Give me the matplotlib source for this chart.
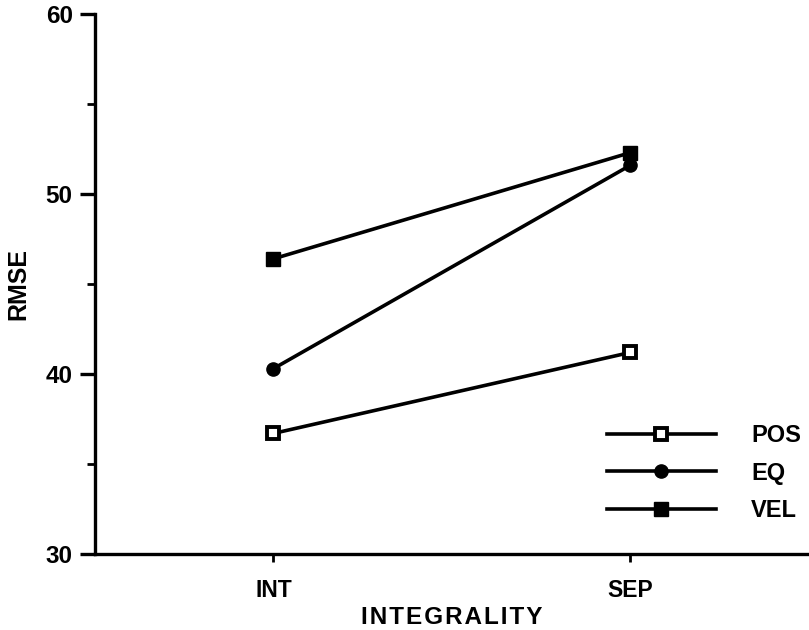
import matplotlib
matplotlib.use("Agg")
import matplotlib.pyplot as plt
from matplotlib.ticker import MultipleLocator

plt.rcParams["font.family"] = ["Liberation Sans", "DejaVu Sans"]

# RMSE by integrality condition, one line per display type
categories = ["INT", "SEP"]
pos_rmse = [36.7, 41.2]
eq_rmse = [40.3, 51.6]
vel_rmse = [46.4, 52.3]
series_labels = ["POS", "EQ", "VEL"]
x_title = "INTEGRALITY"
y_title = "RMSE"

fig = plt.figure(figsize=(8.09, 6.30), dpi=100)
ax = fig.add_axes([0.1174, 0.1206, 0.8826, 0.8572])

x = range(len(categories))
ax.plot(x, pos_rmse, color="black", lw=2.6, marker="s", ms=8,
        mfc="white", mec="black", mew=2.8, label=series_labels[0])
ax.plot(x, eq_rmse, color="black", lw=2.6, marker="o", ms=9.5,
        mfc="black", mec="black", label=series_labels[1])
ax.plot(x, vel_rmse, color="black", lw=2.6, marker="s", ms=9.5,
        mfc="black", mec="black", label=series_labels[2])

ax.set_xlim(-0.5, 1.5)
ax.set_ylim(30, 60)
ax.set_xticks(list(x))
ax.set_xticklabels(categories, fontsize=16.5, fontweight="bold")
ax.yaxis.set_major_locator(MultipleLocator(10))
ax.yaxis.set_minor_locator(MultipleLocator(5))
for lab in ax.get_yticklabels():
    lab.set_fontsize(17.5)
    lab.set_fontweight("bold")

ax.spines["top"].set_visible(False)
ax.spines["right"].set_visible(False)
ax.spines["left"].set_linewidth(2.4)
ax.spines["bottom"].set_linewidth(2.4)
ax.tick_params(axis="y", which="major", direction="out", length=11, width=2.4, pad=5)
ax.tick_params(axis="y", which="minor", direction="out", length=6, width=2)
ax.tick_params(axis="x", which="major", direction="out", length=6, width=2, pad=12)

ax.set_ylabel(y_title, fontsize=18, fontweight="bold", labelpad=11)
# letter-spaced axis title
ax.set_xlabel("\u200a".join(x_title), fontsize=17.5, fontweight="bold",
              labelpad=3)

ax.legend(loc="upper left", bbox_to_anchor=(607 / 809, 1 - 424 / 630),
          bbox_transform=fig.transFigure, frameon=False,
          prop={"size": 17, "weight": "bold"},
          borderpad=0, borderaxespad=0, handlelength=4.6, handletextpad=1.5,
          labelspacing=0.62)

fig.savefig("out.png", dpi=100)
